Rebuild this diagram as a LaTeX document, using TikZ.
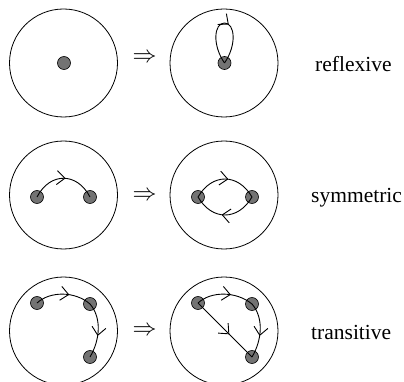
\documentclass[tikz,border=0pt]{standalone}
\usepackage{fontspec}
\setmainfont{Liberation Serif}
\usetikzlibrary{arrows.meta,decorations.markings}
\tikzset{
  region/.style={draw=black,line width=0.8pt},
  elem/.style={circle,draw=black,fill=black!55,line width=0.6pt,minimum size=13pt,inner sep=0pt},
  rel/.style={draw=black,line width=0.9pt},
  midarrow/.style={postaction={decorate,decoration={markings,
     mark=at position #1 with {\arrow{Straight Barb[length=8pt,width=14pt,line width=0.9pt]}}}}},
  implies/.style={inner sep=0pt},
  lbl/.style={font=\fontsize{21.5}{25}\selectfont,anchor=base west,inner sep=0pt}
}
\newcommand{\bigimplies}{\resizebox{24pt}{!}{$\Rightarrow$}}
\begin{document}
\begin{tikzpicture}[x=1pt,y=-1pt]
\useasboundingbox (0,0) rectangle (404,382);
% row 1: reflexive
\draw[region] (63.5,63) circle[radius=54];
\draw[region] (224,63) circle[radius=54];
\node[elem] (a1) at (64,63) {};
\node[elem] (b1) at (224.5,63) {};
\coordinate (top1) at (224.5,23);
\draw[rel,midarrow=0.55] (b1.center) .. controls (212,45) and (214,23) .. (top1)
   .. controls (235,23) and (237,45) .. (b1.center);
\node[implies] (i1) at (144.5,58) {\bigimplies};
\node[lbl] (t1) at (315,71.5) {reflexive};
% row 2: symmetric
\draw[region] (63.5,195) circle[radius=54];
\draw[region] (224,195) circle[radius=54];
\node[elem] (a2) at (37,197) {};
\node[elem] (b2) at (90,197) {};
\node[elem] (c2) at (198,197) {};
\node[elem] (d2) at (252,197) {};
\draw[rel,midarrow=0.53] (a2.center) .. controls (50,172) and (77,172) .. (b2.center);
\draw[rel,midarrow=0.55] (c2.center) .. controls (212,173) and (238,173) .. (d2.center);
\draw[rel,midarrow=0.55] (d2.center) .. controls (238,221) and (212,221) .. (c2.center);
\node[implies] (i2) at (144.5,196) {\bigimplies};
\node[lbl] (t2) at (311,202) {symmetric};
% row 3: transitive
\draw[region] (63.5,331) circle[radius=54];
\draw[region] (224,331) circle[radius=54];
\node[elem] (a3) at (37,303) {};
\node[elem] (b3) at (90,304) {};
\node[elem] (c3) at (90,357) {};
\node[elem] (d3) at (198,303) {};
\node[elem] (e3) at (252,304) {};
\node[elem] (f3) at (252,357) {};
\draw[rel,midarrow=0.6] (a3.center) .. controls (50,291) and (75,291) .. (b3.center);
\draw[rel,midarrow=0.6] (b3.center) .. controls (102,318) and (100,340) .. (c3.center);
\draw[rel,midarrow=0.6] (d3.center) .. controls (211,291) and (236,291) .. (e3.center);
\draw[rel,midarrow=0.6] (e3.center) .. controls (264,318) and (262,340) .. (f3.center);
\draw[rel,midarrow=0.58] (d3.center) -- (f3.center);
\node[implies] (i3) at (144.5,331) {\bigimplies};
\node[lbl] (t3) at (311,339) {transitive};
\end{tikzpicture}
\end{document}
